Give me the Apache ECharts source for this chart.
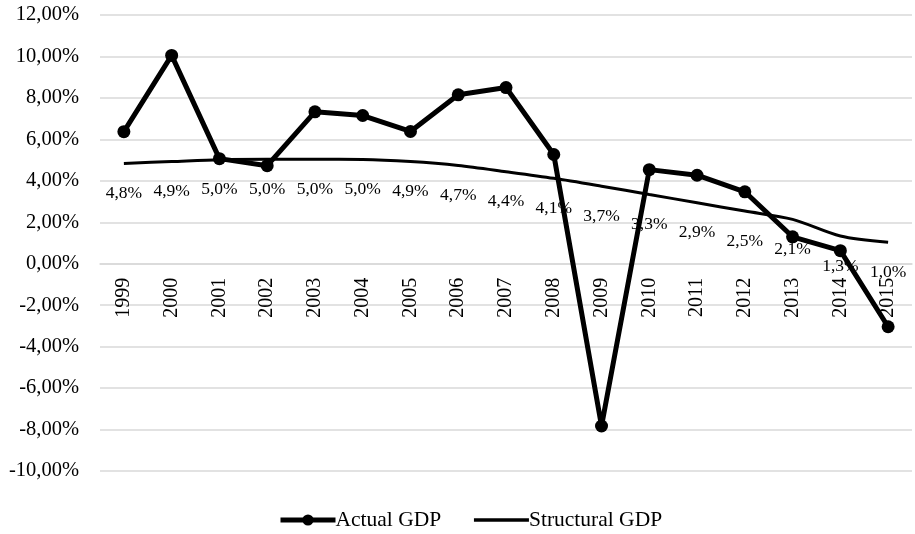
<!DOCTYPE html>
<html>
<head>
<meta charset="utf-8">
<script src="https://cdn.jsdelivr.net/npm/echarts@6/dist/echarts.min.js"></script>
<style>html,body{margin:0;padding:0;background:#fff}#c{width:915px;height:534px}</style>
</head>
<body>
<div id="c"></div>
<script>
var years = ['1999','2000','2001','2002','2003','2004','2005','2006','2007','2008','2009','2010','2011','2012','2013','2014','2015'];
var actualGDP = [6.37, 10.05, 5.07, 4.73, 7.33, 7.15, 6.38, 8.15, 8.5, 5.27, -7.83, 4.54, 4.27, 3.47, 1.3, 0.63, -3.04];
var structuralGDP = [4.84, 4.93, 5.02, 5.04, 5.04, 5.03, 4.93, 4.74, 4.44, 4.12, 3.74, 3.34, 2.94, 2.54, 2.14, 1.34, 1.04];
var yTicks = {min: -10, max: 12, interval: 2};

var FONT = 'Liberation Serif';
var GRID_TOP = 15, GRID_BOTTOM = 63, H = 534;
var plotH = H - GRID_TOP - GRID_BOTTOM;
// distance from bottom of plot up to the zero line, derived from the axis range
var zeroOffset = plotH * (0 - yTicks.min) / (yTicks.max - yTicks.min);

var chart = echarts.init(document.getElementById('c'));
chart.setOption({
  animation: false,
  textStyle: {fontFamily: FONT, color: '#000'},
  grid: {left: 100, right: 3, top: GRID_TOP, bottom: GRID_BOTTOM},
  legend: {
    left: 278, top: 509, padding: 0,
    itemWidth: 55, itemHeight: 14, itemGap: 31,
    textStyle: {fontFamily: FONT, fontSize: 21.5, color: '#000', padding: [0, 0, 0, -5]},
    data: [
      {name: 'Actual GDP', lineStyle: {width: 5, color: '#000'}, itemStyle: {color: '#000'}},
      {name: 'Structural GDP', lineStyle: {width: 3.5, color: '#000'}, itemStyle: {color: 'rgba(0,0,0,0)', borderWidth: 0}}
    ]
  },
  xAxis: {
    type: 'category',
    data: years,
    boundaryGap: true,
    position: 'bottom',
    offset: -zeroOffset,
    axisLine: {onZero: false, lineStyle: {color: '#d9d9d9', width: 1.5}},
    axisTick: {show: false},
    axisLabel: {rotate: 90, margin: 14, fontFamily: FONT, fontSize: 20, color: '#000', interval: 0}
  },
  yAxis: {
    type: 'value',
    min: yTicks.min, max: yTicks.max, interval: yTicks.interval,
    axisLine: {show: false},
    axisTick: {show: false},
    splitLine: {lineStyle: {color: '#d9d9d9', width: 1.5}},
    axisLabel: {
      margin: 21, fontFamily: FONT, fontSize: 20.5, color: '#000',
      formatter: function (v) { return v.toFixed(2).replace('.', ',') + '%'; }
    }
  },
  series: [
    {
      name: 'Structural GDP',
      type: 'line',
      data: structuralGDP,
      smooth: 0.3,
      symbol: 'circle',
      symbolSize: 0,
      itemStyle: {color: '#000'},
      lineStyle: {color: '#000', width: 3},
      label: {
        show: true, position: 'bottom', distance: 21,
        fontFamily: FONT, fontSize: 17.5, color: '#000',
        formatter: function (p) { return p.value.toFixed(1).replace('.', ',') + '%'; }
      },
      z: 2
    },
    {
      name: 'Actual GDP',
      type: 'line',
      data: actualGDP,
      symbol: 'circle',
      symbolSize: 13,
      itemStyle: {color: '#000'},
      lineStyle: {color: '#000', width: 5},
      z: 3
    }
  ]
});
</script>
</body>
</html>
